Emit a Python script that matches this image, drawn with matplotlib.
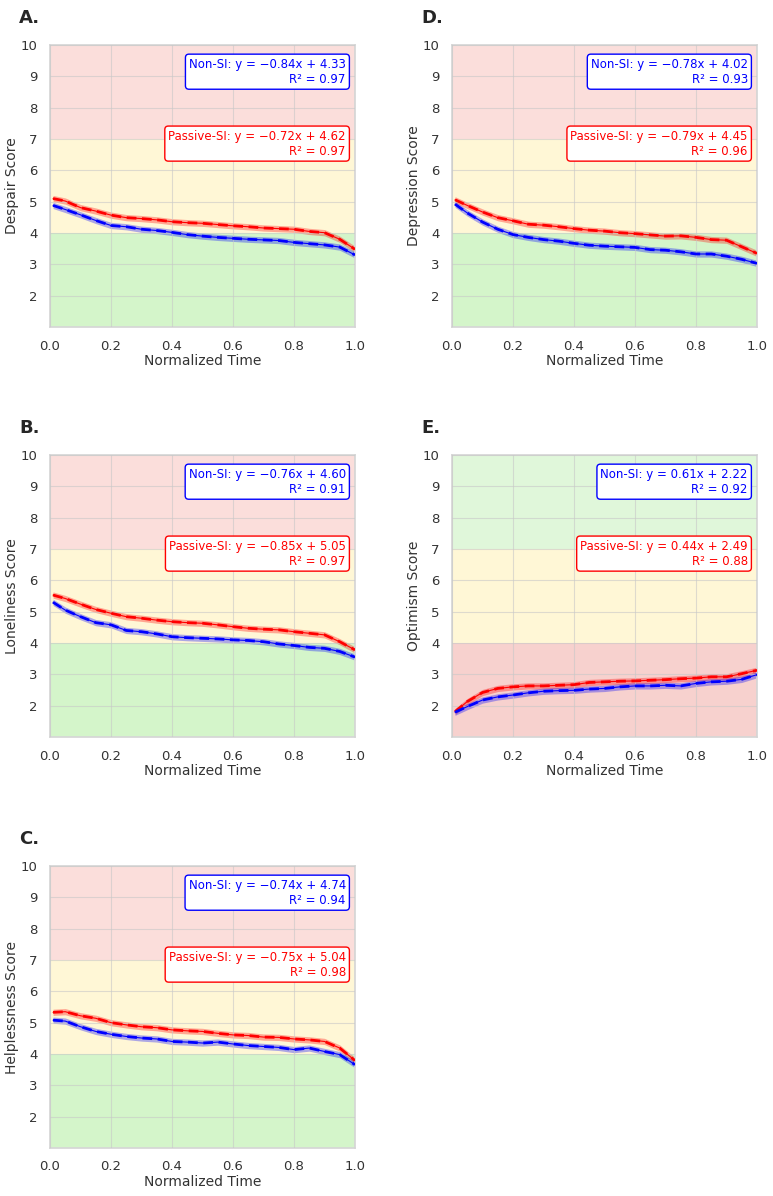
import matplotlib
matplotlib.use("Agg")
import matplotlib.pyplot as plt
import seaborn as sns
import numpy as np

sns.set_theme(style="whitegrid")
plt.rcParams['font.family'] = ['DejaVu Sans']

time = [0.01, 0.05, 0.10, 0.15, 0.20, 0.25, 0.30, 0.35, 0.40, 0.45, 0.50,
        0.55, 0.60, 0.65, 0.70, 0.75, 0.80, 0.85, 0.90, 0.95, 1.00]

despair_passive = [5.10, 5.02, 4.81, 4.70, 4.57, 4.49, 4.46, 4.42, 4.36, 4.33, 4.31,
                   4.27, 4.23, 4.20, 4.16, 4.14, 4.12, 4.05, 4.01, 3.80, 3.48]
despair_non = [4.88, 4.75, 4.58, 4.40, 4.24, 4.20, 4.12, 4.08, 4.02, 3.95, 3.90,
               3.86, 3.83, 3.80, 3.78, 3.76, 3.70, 3.66, 3.62, 3.55, 3.30]

depression_passive = [5.06, 4.88, 4.67, 4.49, 4.39, 4.28, 4.25, 4.20, 4.14, 4.09, 4.06,
                      4.01, 3.98, 3.94, 3.90, 3.91, 3.86, 3.79, 3.77, 3.56, 3.35]
depression_non = [4.92, 4.64, 4.35, 4.12, 3.95, 3.86, 3.79, 3.74, 3.67, 3.61, 3.58,
                  3.56, 3.54, 3.47, 3.45, 3.40, 3.33, 3.33, 3.26, 3.16, 3.03]

loneliness_passive = [5.53, 5.42, 5.24, 5.07, 4.95, 4.84, 4.79, 4.73, 4.68, 4.65, 4.63,
                      4.58, 4.52, 4.47, 4.44, 4.42, 4.36, 4.31, 4.26, 4.04, 3.78]
loneliness_non = [5.30, 5.05, 4.84, 4.65, 4.58, 4.40, 4.36, 4.29, 4.20, 4.17, 4.15,
                  4.13, 4.10, 4.08, 4.04, 3.97, 3.92, 3.86, 3.83, 3.73, 3.55]

optimism_passive = [1.81, 2.13, 2.42, 2.55, 2.60, 2.63, 2.63, 2.65, 2.67, 2.74, 2.76,
                    2.78, 2.79, 2.81, 2.83, 2.86, 2.88, 2.92, 2.92, 3.02, 3.13]
optimism_non = [1.79, 1.97, 2.18, 2.28, 2.34, 2.41, 2.46, 2.48, 2.49, 2.53, 2.55,
                2.60, 2.63, 2.63, 2.65, 2.63, 2.71, 2.76, 2.78, 2.84, 2.99]

helpless_passive = [5.33, 5.35, 5.22, 5.14, 5.00, 4.93, 4.87, 4.84, 4.77, 4.74, 4.72,
                    4.66, 4.61, 4.59, 4.54, 4.53, 4.48, 4.45, 4.40, 4.19, 3.79]
helpless_non = [5.08, 5.05, 4.87, 4.72, 4.63, 4.56, 4.51, 4.48, 4.40, 4.38, 4.35,
                4.38, 4.32, 4.27, 4.24, 4.21, 4.14, 4.19, 4.08, 3.98, 3.66]

panel_letters = ["A.", "D.", "B.", "E.", "C."]
ylabels = ["Despair Score", "Depression Score", "Loneliness Score", "Optimism Score", "Helplessness Score"]
non_eq = ["Non-SI: y = \u22120.84x + 4.33\nR\u00b2 = 0.97",
          "Non-SI: y = \u22120.78x + 4.02\nR\u00b2 = 0.93",
          "Non-SI: y = \u22120.76x + 4.60\nR\u00b2 = 0.91",
          "Non-SI: y = 0.61x + 2.22\nR\u00b2 = 0.92",
          "Non-SI: y = \u22120.74x + 4.74\nR\u00b2 = 0.94"]
pas_eq = ["Passive-SI: y = \u22120.72x + 4.62\nR\u00b2 = 0.97",
          "Passive-SI: y = \u22120.79x + 4.45\nR\u00b2 = 0.96",
          "Passive-SI: y = \u22120.85x + 5.05\nR\u00b2 = 0.97",
          "Passive-SI: y = 0.44x + 2.49\nR\u00b2 = 0.88",
          "Passive-SI: y = \u22120.75x + 5.04\nR\u00b2 = 0.98"]
passive_series = [despair_passive, depression_passive, loneliness_passive, optimism_passive, helpless_passive]
non_series = [despair_non, depression_non, loneliness_non, optimism_non, helpless_non]
reverse = [False, False, False, True, False]

W, H = 773, 1196
fig = plt.figure(figsize=(W / 100, H / 100), dpi=100)

lefts = [50, 452]
tops = [45, 455, 866]
aw, ah = 305, 282
positions = [(0, 0), (1, 0), (0, 1), (1, 1), (0, 2)]

x = np.array(time)
for i in range(5):
    c, r = positions[i]
    l = lefts[c]
    t = tops[r]
    ax = fig.add_axes([l / W, 1 - (t + ah) / H, aw / W, ah / H])
    if reverse[i]:
        ax.axhspan(1, 4, color='#f7d1ce', zorder=0, lw=0)
        ax.axhspan(4, 7, color='#fff7d6', zorder=0, lw=0)
        ax.axhspan(7, 10, color='#e0f7da', zorder=0, lw=0)
    else:
        ax.axhspan(1, 4, color='#d4f5ca', zorder=0, lw=0)
        ax.axhspan(4, 7, color='#fff7d6', zorder=0, lw=0)
        ax.axhspan(7, 10, color='#fbdedb', zorder=0, lw=0)
    for ys, col in [(passive_series[i], 'red'), (non_series[i], 'blue')]:
        y = np.array(ys)
        ax.fill_between(x, y - 0.1, y + 0.1, color=col, alpha=0.32, lw=0, zorder=2)
        ax.plot(x, y, color=col, lw=0.8, zorder=3)
        ax.plot(x, y, color=col, lw=2.0, ls=(0, (3.5, 2.0)), zorder=4)
    ax.set_xlim(0, 1)
    ax.set_ylim(1, 10)
    ax.set_yticks(range(2, 11))
    ax.set_xticks([0, 0.2, 0.4, 0.6, 0.8, 1.0])
    ax.set_xticklabels(["0.0", "0.2", "0.4", "0.6", "0.8", "1.0"])
    ax.tick_params(labelsize=9.5, pad=3, colors='#333333')
    ax.set_xlabel("Normalized Time", fontsize=10, labelpad=1, color='#333333')
    ax.set_ylabel(ylabels[i], fontsize=10, labelpad=1, color='#333333')
    ax.grid(True, color='#c8c8c8', lw=0.8, alpha=0.6)
    ax.set_axisbelow(False)
    for s in ax.spines.values():
        s.set_color('#d6d6d6')
    ax.text(0.97, 0.955, non_eq[i], transform=ax.transAxes, ha='right', va='top',
            color='blue', fontsize=8.5, multialignment='right', zorder=6,
            bbox=dict(boxstyle='round,pad=0.3', fc='white', ec='blue', lw=1))
    ax.text(0.97, 0.70, pas_eq[i], transform=ax.transAxes, ha='right', va='top',
            color='red', fontsize=8.5, multialignment='right', zorder=6,
            bbox=dict(boxstyle='round,pad=0.3', fc='white', ec='red', lw=1))
    fig.text((l - 31) / W, 1 - (t - 27) / H, panel_letters[i], fontsize=13,
             fontweight='bold', ha='left', va='center', color='#262626')

fig.savefig("out.png", dpi=100)
